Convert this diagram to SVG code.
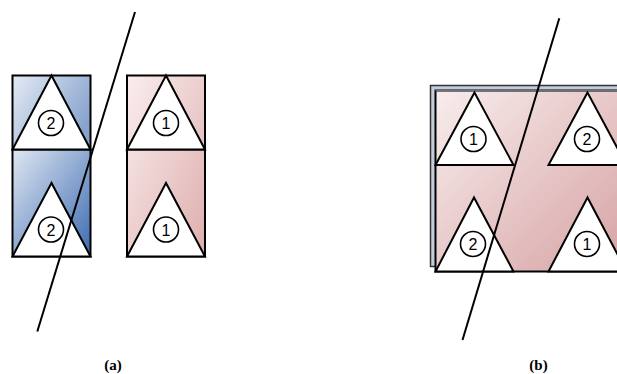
<svg xmlns="http://www.w3.org/2000/svg" width="617" height="374" viewBox="0 0 617 374">
<defs>
<linearGradient id="blueTop" x1="0" y1="0" x2="1" y2="0.6">
<stop offset="0" stop-color="#e4ebf4"/><stop offset="1" stop-color="#86a2cd"/>
</linearGradient>
<linearGradient id="blueBot" x1="0" y1="0" x2="1" y2="1">
<stop offset="0" stop-color="#dfe7f2"/><stop offset="1" stop-color="#3d6bb0"/>
</linearGradient>
<linearGradient id="pinkA" x1="0" y1="0" x2="1" y2="1">
<stop offset="0" stop-color="#faeeee"/><stop offset="1" stop-color="#deaeae"/>
</linearGradient>
<linearGradient id="pinkB" gradientUnits="userSpaceOnUse" x1="436" y1="90" x2="617" y2="272">
<stop offset="0" stop-color="#f8eded"/><stop offset="1" stop-color="#d7a3a4"/>
</linearGradient>
</defs>
<style>
.box{stroke:#000;stroke-width:2}
.tri{fill:#fff;stroke:#000;stroke-width:2;stroke-linejoin:miter}
.cir{fill:#fff;stroke:#000;stroke-width:1.6}
.num{font-family:"Liberation Sans",Arial,sans-serif;font-size:16px;text-anchor:middle;fill:#000}
.lab{font-family:"Liberation Serif","Times New Roman",serif;font-size:15px;font-weight:bold;text-anchor:middle;fill:#000}
.cut{stroke:#000;stroke-width:2;fill:none}
</style>

<g id="a-left">
<rect class="box" x="12.5" y="75.5" width="78" height="74" fill="url(#blueTop)"/>
<rect class="box" x="12.5" y="149.5" width="78" height="107" fill="url(#blueBot)"/>
<polygon class="tri" points="51.5,75.5 12.5,149.5 90.5,149.5"/>
<circle class="cir" cx="51" cy="123" r="12.5"/>
<text class="num" x="51" y="129">2</text>
<polygon class="tri" points="51.5,183 12.5,256.5 90.5,256.5"/>
<circle class="cir" cx="51" cy="229.5" r="12.5"/>
<text class="num" x="51" y="235.5">2</text>
</g>

<g id="a-right">
<rect class="box" x="127" y="75.5" width="78" height="181" fill="url(#pinkA)"/>
<line class="box" x1="127" y1="149.5" x2="205" y2="149.5"/>
<polygon class="tri" points="166,75.5 127,149.5 205,149.5"/>
<circle class="cir" cx="166" cy="123" r="12.5"/>
<text class="num" x="166" y="129">1</text>
<polygon class="tri" points="166,183 127,256.5 205,256.5"/>
<circle class="cir" cx="166" cy="229.5" r="12.5"/>
<text class="num" x="166" y="235.5">1</text>
</g>

<g id="b-panel">
<rect x="430.5" y="85.5" width="200" height="181" fill="#c3ccdb" stroke="#333" stroke-width="1.5"/>
<rect x="435.5" y="90.5" width="200" height="181" fill="url(#pinkB)" stroke="#000" stroke-width="2"/>
<line x1="435.5" y1="90.5" x2="617" y2="90.5" stroke="#6b7180" stroke-width="1.5"/>
</g>

<g id="b-tl">
<polygon class="tri" points="474.5,92.5 435.5,165 513.5,165"/>
<circle class="cir" cx="473.5" cy="139" r="12.5"/>
<text class="num" x="473.5" y="145">1</text>
</g>
<g id="b-tr">
<polygon class="tri" points="587.5,92.5 548.5,165 626.5,165"/>
<circle class="cir" cx="587" cy="139" r="12.5"/>
<text class="num" x="587" y="145">2</text>
</g>
<g id="b-bl">
<polygon class="tri" points="474,197.5 435.5,271.5 513.5,271.5"/>
<circle class="cir" cx="473" cy="244" r="12.5"/>
<text class="num" x="473" y="250">2</text>
</g>
<g id="b-br">
<polygon class="tri" points="587.5,197.5 548.5,271.5 626.5,271.5"/>
<circle class="cir" cx="587" cy="244" r="12.5"/>
<text class="num" x="587" y="250">1</text>
</g>

<g id="connectors">
<line class="cut" x1="135" y1="12" x2="37.3" y2="331.5"/>
<line class="cut" x1="559.3" y1="18.3" x2="462.5" y2="340"/>
</g>

<text class="lab" x="113" y="370">(a)</text>
<text class="lab" x="538.5" y="370">(b)</text>
</svg>
